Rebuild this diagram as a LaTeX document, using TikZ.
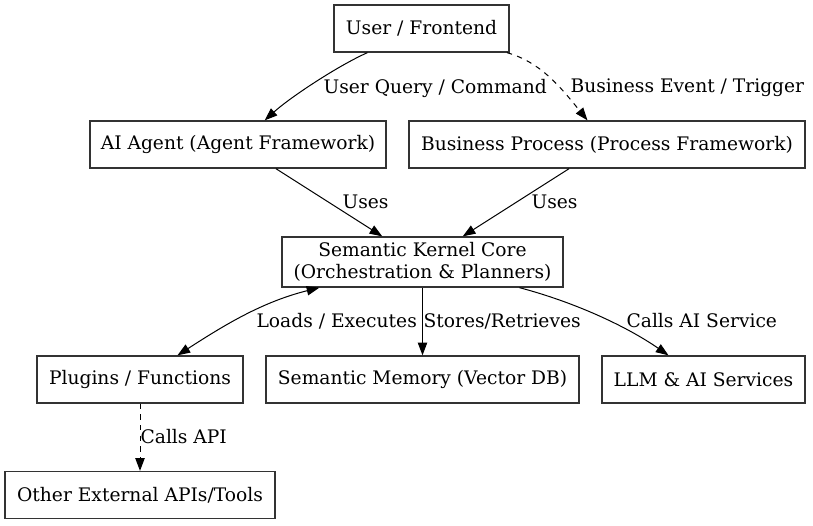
\documentclass[tikz,border=0pt]{standalone}
\usepackage{fontspec}
\setmainfont{DejaVu Serif}
\usetikzlibrary{arrows.meta}

\begin{document}
\begin{tikzpicture}[x=0.75pt,y=-0.75pt,
  font=\fontsize{14}{16}\selectfont,
  box/.style={draw=black!80, line width=1pt, inner sep=0pt, align=center,
    minimum height=35.25pt, minimum width=#1*0.75pt},
  lbl/.style={anchor=west, inner sep=1pt},
  tip/.style={-{Triangle[length=9.5pt,width=7pt]}},
  edge/.style={line width=0.75pt, tip},
  dashedge/.style={dash pattern=on 4pt off 4pt}]
\useasboundingbox (0,0) rectangle (813,525);
%top row
\node[box=175] (user) at (421.5,28.5) {User / Frontend};
%middle rows
\node[box=296] (agent) at (238,144.5) {AI Agent (Agent Framework)};
\node[box=396] (process) at (607,144.5) {Business Process (Process Framework)};
\node[box=281, minimum height=37.5pt] (core) at (422.5,262) {Semantic Kernel Core\\(Orchestration \& Planners)};
%bottom rows
\node[box=206] (plugins) at (140,379.5) {Plugins / Functions};
\node[box=313] (memory) at (422.5,379.5) {Semantic Memory (Vector DB)};
\node[box=203] (llm) at (703.5,379.5) {LLM \& AI Services};
\node[box=270] (apis) at (140,495) {Other External APIs/Tools};
%edges from the user
\draw[edge] (user) .. controls (337.5,66) and (290,97.5) .. (agent);
\draw[edge,dashedge] (user) .. controls (540,62) and (559.5,85.75) .. (process);
%edges into the core
\draw[edge] (agent) -- (core);
\draw[edge] (process) -- (core);
%edges out of the core
\draw[line width=0.75pt,{Triangle[length=9.5pt,width=7pt]}-{Triangle[length=9.5pt,width=7pt]}] (core) .. controls (261.7,302) and (223.6,325.6) .. (plugins);
\draw[edge] (core) -- (memory);
\draw[edge] (core) .. controls (573.7,302) and (625.4,325.6) .. (llm);
\draw[edge,dashedge] (plugins) -- (apis);
%edge labels
\node[lbl] (lquery) at (322,88) {User Query / Command};
\node[lbl] (levent) at (569,88) {Business Event / Trigger};
\node[lbl] (luses1) at (341,202) {Uses};
\node[lbl] (luses2) at (530,202) {Uses};
\node[lbl] (lloads) at (255,321) {Loads / Executes};
\node[lbl] (lstores) at (422,321) {Stores/Retrieves};
\node[lbl] (lcalls) at (625,321) {Calls AI Service};
\node[lbl] (lapi) at (139,437) {Calls API};
\end{tikzpicture}
\end{document}
